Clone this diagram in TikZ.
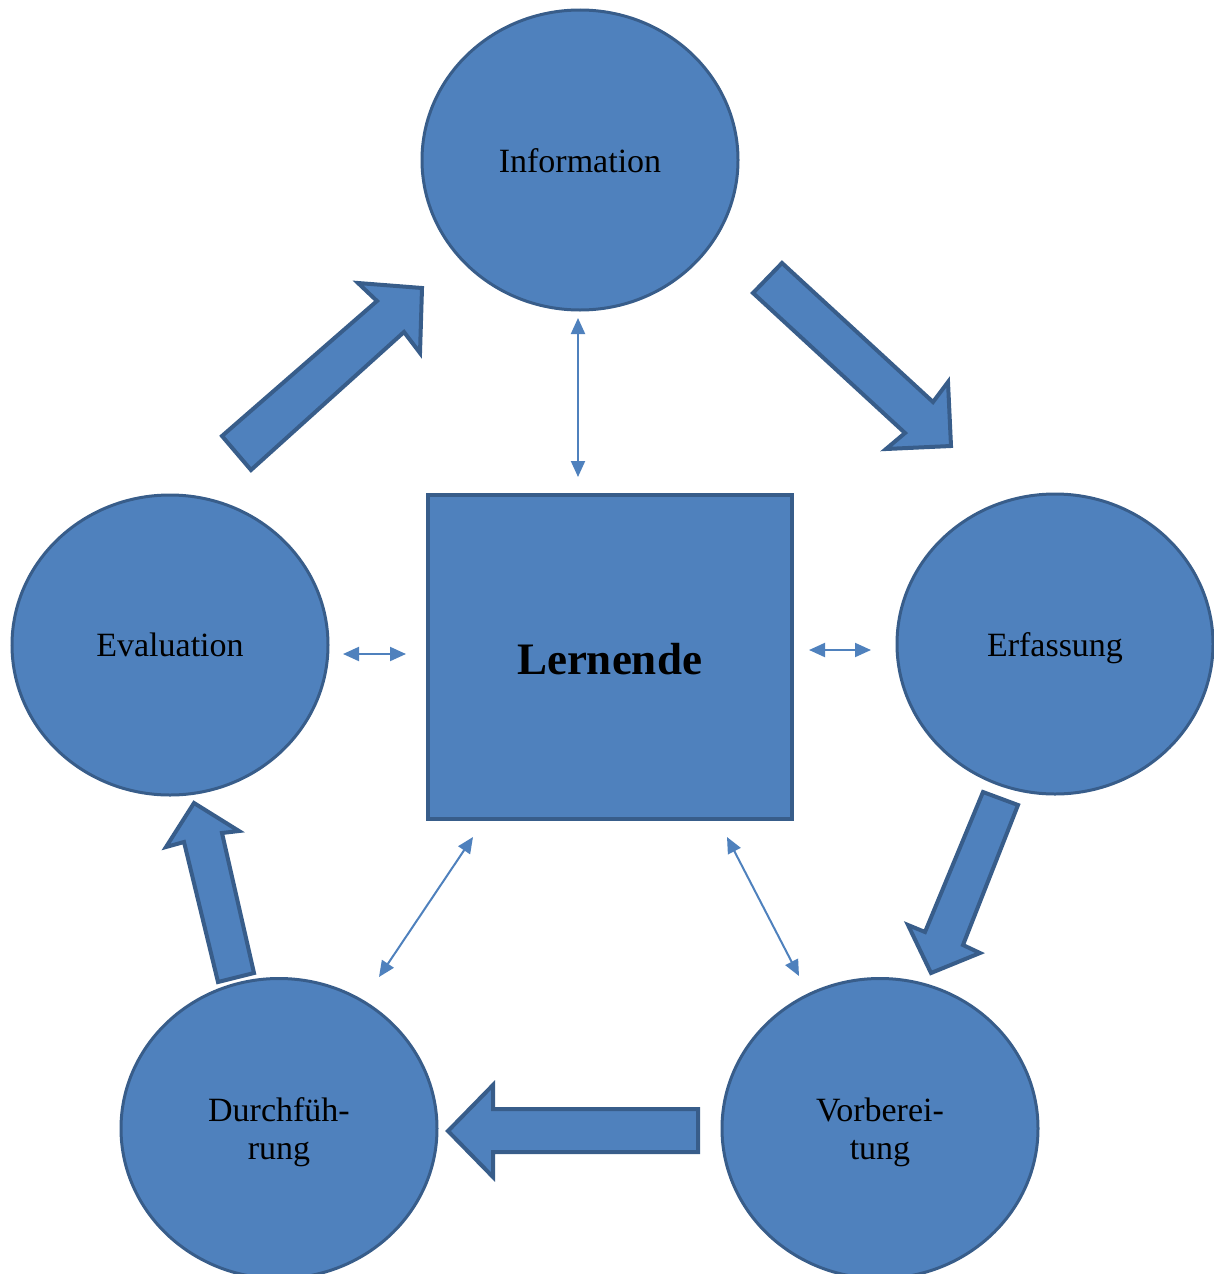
\documentclass[tikz,border=0pt]{standalone}
\usepackage{fontspec}
\setmainfont{Liberation Serif}
\usetikzlibrary{shapes.geometric,arrows.meta}
\definecolor{fillblue}{HTML}{4F81BD}
\definecolor{edgeblue}{HTML}{385D8A}
\tikzset{
  phase/.style={ellipse, draw=edgeblue, line width=1.5pt, fill=fillblue, minimum width=158pt, minimum height=150pt, inner sep=0pt, align=center, text depth=0pt, font=\fontsize{17}{19}\selectfont},
  center/.style={rectangle, draw=edgeblue, line width=2pt, fill=fillblue, minimum width=182pt, minimum height=162pt, inner sep=0pt, font=\fontsize{22.5}{26}\selectfont\bfseries},
  blockarrow/.style={draw=edgeblue, line width=2pt, fill=fillblue, line join=miter},
  thinlink/.style={draw=fillblue, line width=1pt, {Triangle[length=8pt,width=7pt]}-{Triangle[length=8pt,width=7pt]}}
}
\begin{document}
\begin{tikzpicture}[x=0.5pt,y=-0.5pt]
\useasboundingbox (0,0) rectangle (1214,1274);
\begin{scope}
\clip (0,0) rectangle (1214,1274);
\node[phase] (info) at (580,160) {\raisebox{-0.8pt}{Information}};
\node[phase] (eval) at (170,645) {Evaluation};
\node[phase] (erf) at (1055,644) {\raisebox{-0.5pt}{Erfassung}};
\node[phase] (durch) at (279,1128.5) {Durchfüh-\\rung};
\node[phase] (vorb) at (880,1128.5) {Vorberei-\\tung};
\node[center] (lern) at (609.5,656.5) {\raisebox{-9pt}[0pt][0pt]{Lernende}};

% block arrows
\draw[blockarrow] (222,436) -- (377,301) -- (358,283) -- (422,288) -- (420,353) -- (404,332) -- (251,470) -- cycle;
\draw[blockarrow] (753,293) -- (782,263) -- (933,402) -- (948,382) -- (951,446) -- (886,449) -- (905,433) -- cycle;
\draw[blockarrow] (983,792) -- (1018,805) -- (963,945) -- (980,953) -- (931,973) -- (908,925) -- (925,932) -- cycle;
\draw[blockarrow] (698,1109) -- (493,1109) -- (493,1085) -- (448,1131) -- (493,1177) -- (493,1152) -- (698,1152) -- cycle;
\draw[blockarrow] (218,982) -- (254,973) -- (222,833) -- (239,831) -- (194,803) -- (166,847) -- (184,842) -- cycle;

% thin double arrows
\coordinate (a1) at (578,318);
\coordinate (a2) at (578,477);
\coordinate (b1) at (343,654);
\coordinate (b2) at (406,654);
\coordinate (c1) at (809,650);
\coordinate (c2) at (871,650);
\coordinate (d1) at (473,837);
\coordinate (d2) at (379,977);
\coordinate (e1) at (727,837);
\coordinate (e2) at (799,976);
\draw[thinlink] (a1) -- (a2);
\draw[thinlink] (b1) -- (b2);
\draw[thinlink] (c1) -- (c2);
\draw[thinlink] (d1) -- (d2);
\draw[thinlink] (e1) -- (e2);
\end{scope}
\end{tikzpicture}
\end{document}
